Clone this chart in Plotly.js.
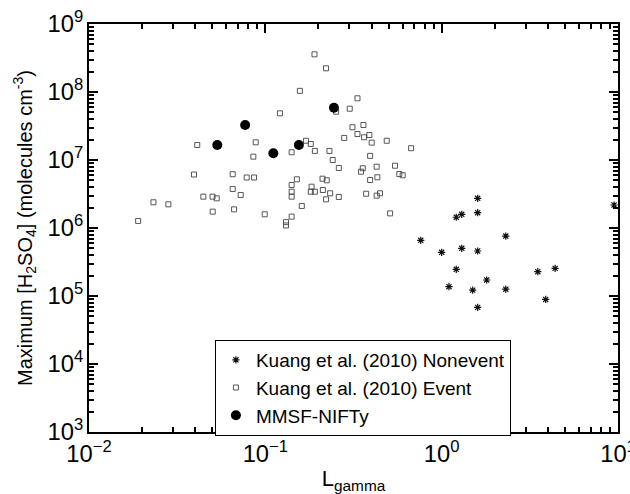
<!DOCTYPE html>
<html>
<head>
<meta charset="utf-8">
<script src="https://cdn.plot.ly/plotly-3.0.1.min.js"></script>
<style>html,body{margin:0;padding:0;background:#fff;}#chart{width:630px;height:494px;}</style>
</head>
<body>
<div id="chart"></div>
<script>
// Kuang et al. (2010) Nonevent
const nonX = [1.60, 1.60, 1.21, 1.30, 0.761, 2.31, 1.00, 1.30, 1.60, 1.21, 1.80, 1.10, 1.50, 2.31, 1.60, 3.51, 4.40, 3.89, 9.5];
const nonY = [2.73e6, 1.68e6, 1.44e6, 1.59e6, 6.59e5, 7.62e5, 4.39e5, 5.03e5, 4.59e5, 2.47e5, 1.72e5, 1.37e5, 1.22e5, 1.26e5, 6.8e4, 2.28e5, 2.55e5, 8.9e4, 2.18e6];

// Kuang et al. (2010) Event
const evX = [0.0190, 0.0232, 0.0282, 0.0394, 0.0411, 0.0445, 0.0502, 0.0530, 0.0503, 0.0653,
             0.0653, 0.0665, 0.0725, 0.0784, 0.0863, 0.0855, 0.0882, 0.0992, 0.121, 0.131,
             0.131, 0.141, 0.141, 0.141, 0.141, 0.141, 0.151, 0.161, 0.157,
             0.190, 0.221, 0.333, 0.301, 0.252, 0.312, 0.360, 0.333, 0.280, 0.389,
             0.363, 0.401, 0.488, 0.671, 0.170, 0.181, 0.191, 0.231, 0.241, 0.393,
             0.261, 0.357, 0.349, 0.428, 0.544, 0.575, 0.601, 0.393, 0.432, 0.211,
             0.223, 0.183, 0.181, 0.191, 0.212, 0.233, 0.221, 0.261, 0.373, 0.428,
             0.447, 0.510];
const evY = [1.27e6, 2.39e6, 2.23e6, 6.12e6, 1.66e7, 2.89e6, 2.89e6, 2.73e6, 1.74e6, 6.18e6,
             3.75e6, 1.88e6, 3.06e6, 5.53e6, 5.53e6, 1.12e7, 1.82e7, 1.59e6, 4.86e7, 1.22e6,
             1.09e6, 1.30e7, 4.29e6, 3.42e6, 2.89e6, 1.47e6, 5.20e6, 2.11e6, 1.04e8,
             3.58e8, 2.23e8, 8.08e7, 5.68e7, 5.13e7, 3.03e7, 3.27e7, 2.41e7, 2.11e7, 2.33e7,
             2.16e7, 1.80e7, 1.92e7, 1.49e7, 1.92e7, 1.72e7, 1.36e7, 1.36e7, 1.0e7, 1.15e7,
             7.63e6, 7.55e6, 6.73e6, 7.97e6, 8.24e6, 6.22e6, 5.96e6, 5.08e6, 5.57e6, 5.31e6,
             5.03e6, 4.05e6, 3.42e6, 3.42e6, 3.62e6, 3.24e6, 2.64e6, 2.86e6, 3.19e6, 2.99e6,
             3.24e6, 1.64e6];

// MMSF-NIFTy
const mmX = [0.0534, 0.0768, 0.111, 0.155, 0.245];
const mmY = [1.66e7, 3.27e7, 1.26e7, 1.66e7, 5.88e7];

const names = ["Kuang et al. (2010) Nonevent", "Kuang et al. (2010) Event", "MMSF-NIFTy"];

const FONT = "Liberation Sans, Arial, sans-serif";

const traces = [
  {x: nonX, y: nonY, name: names[0], type: "scatter", mode: "markers",
   marker: {symbol: "asterisk-open", size: 6, color: "#111", line: {color: "#111", width: 1.2}}},
  {x: evX, y: evY, name: names[1], type: "scatter", mode: "markers",
   marker: {symbol: "square-open", size: 5, color: "#444", line: {color: "#444", width: 0.9}}},
  {x: mmX, y: mmY, name: names[2], type: "scatter", mode: "markers",
   marker: {symbol: "circle", size: 10, color: "#000"}}
];

function axis(range, extra) {
  return Object.assign({
    type: "log", range: range,
    showline: true, linecolor: "#000", linewidth: 2, mirror: "ticks",
    ticks: "inside", ticklen: 9, tickwidth: 2, tickcolor: "#000",
    tickmode: "linear", tick0: 0, dtick: 1,
    exponentformat: "power",
    showgrid: false,
    tickfont: {family: FONT, size: 19, color: "#000"},
    minor: {ticks: "inside", ticklen: 5, tickwidth: 1.5, tickcolor: "#000", dtick: "D1"}
  }, extra);
}

const layout = {
  width: 630, height: 494,
  margin: {l: 89, r: 12, t: 24, b: 62},
  font: {family: FONT, color: "#000"},
  showlegend: true,
  xaxis: axis([-2, 1], {
    labelalias: {"1": "10<sup>0</sup>", "10": "10<sup>1</sup>"},
    ticklabeloverflow: "allow",
    title: {text: "L<sub>gamma</sub>", font: {family: FONT, size: 22, color: "#000"}, standoff: 10}
  }),
  yaxis: axis([3, 9], {
    title: {text: "Maximum [H<sub>2</sub>SO<sub>4</sub>] (molecules cm<sup>-3</sup>)", font: {family: FONT, size: 20, color: "#000"}, standoff: 10}
  }),
  legend: {
    x: 0.238, y: 0.108, xanchor: "left", yanchor: "middle",
    bgcolor: "#fff", bordercolor: "#000", borderwidth: 1,
    font: {family: FONT, size: 19, color: "#000"},
    tracegroupgap: 0, itemwidth: 30
  }
};

Plotly.newPlot("chart", traces, layout, {displayModeBar: false});
</script>
</body>
</html>
